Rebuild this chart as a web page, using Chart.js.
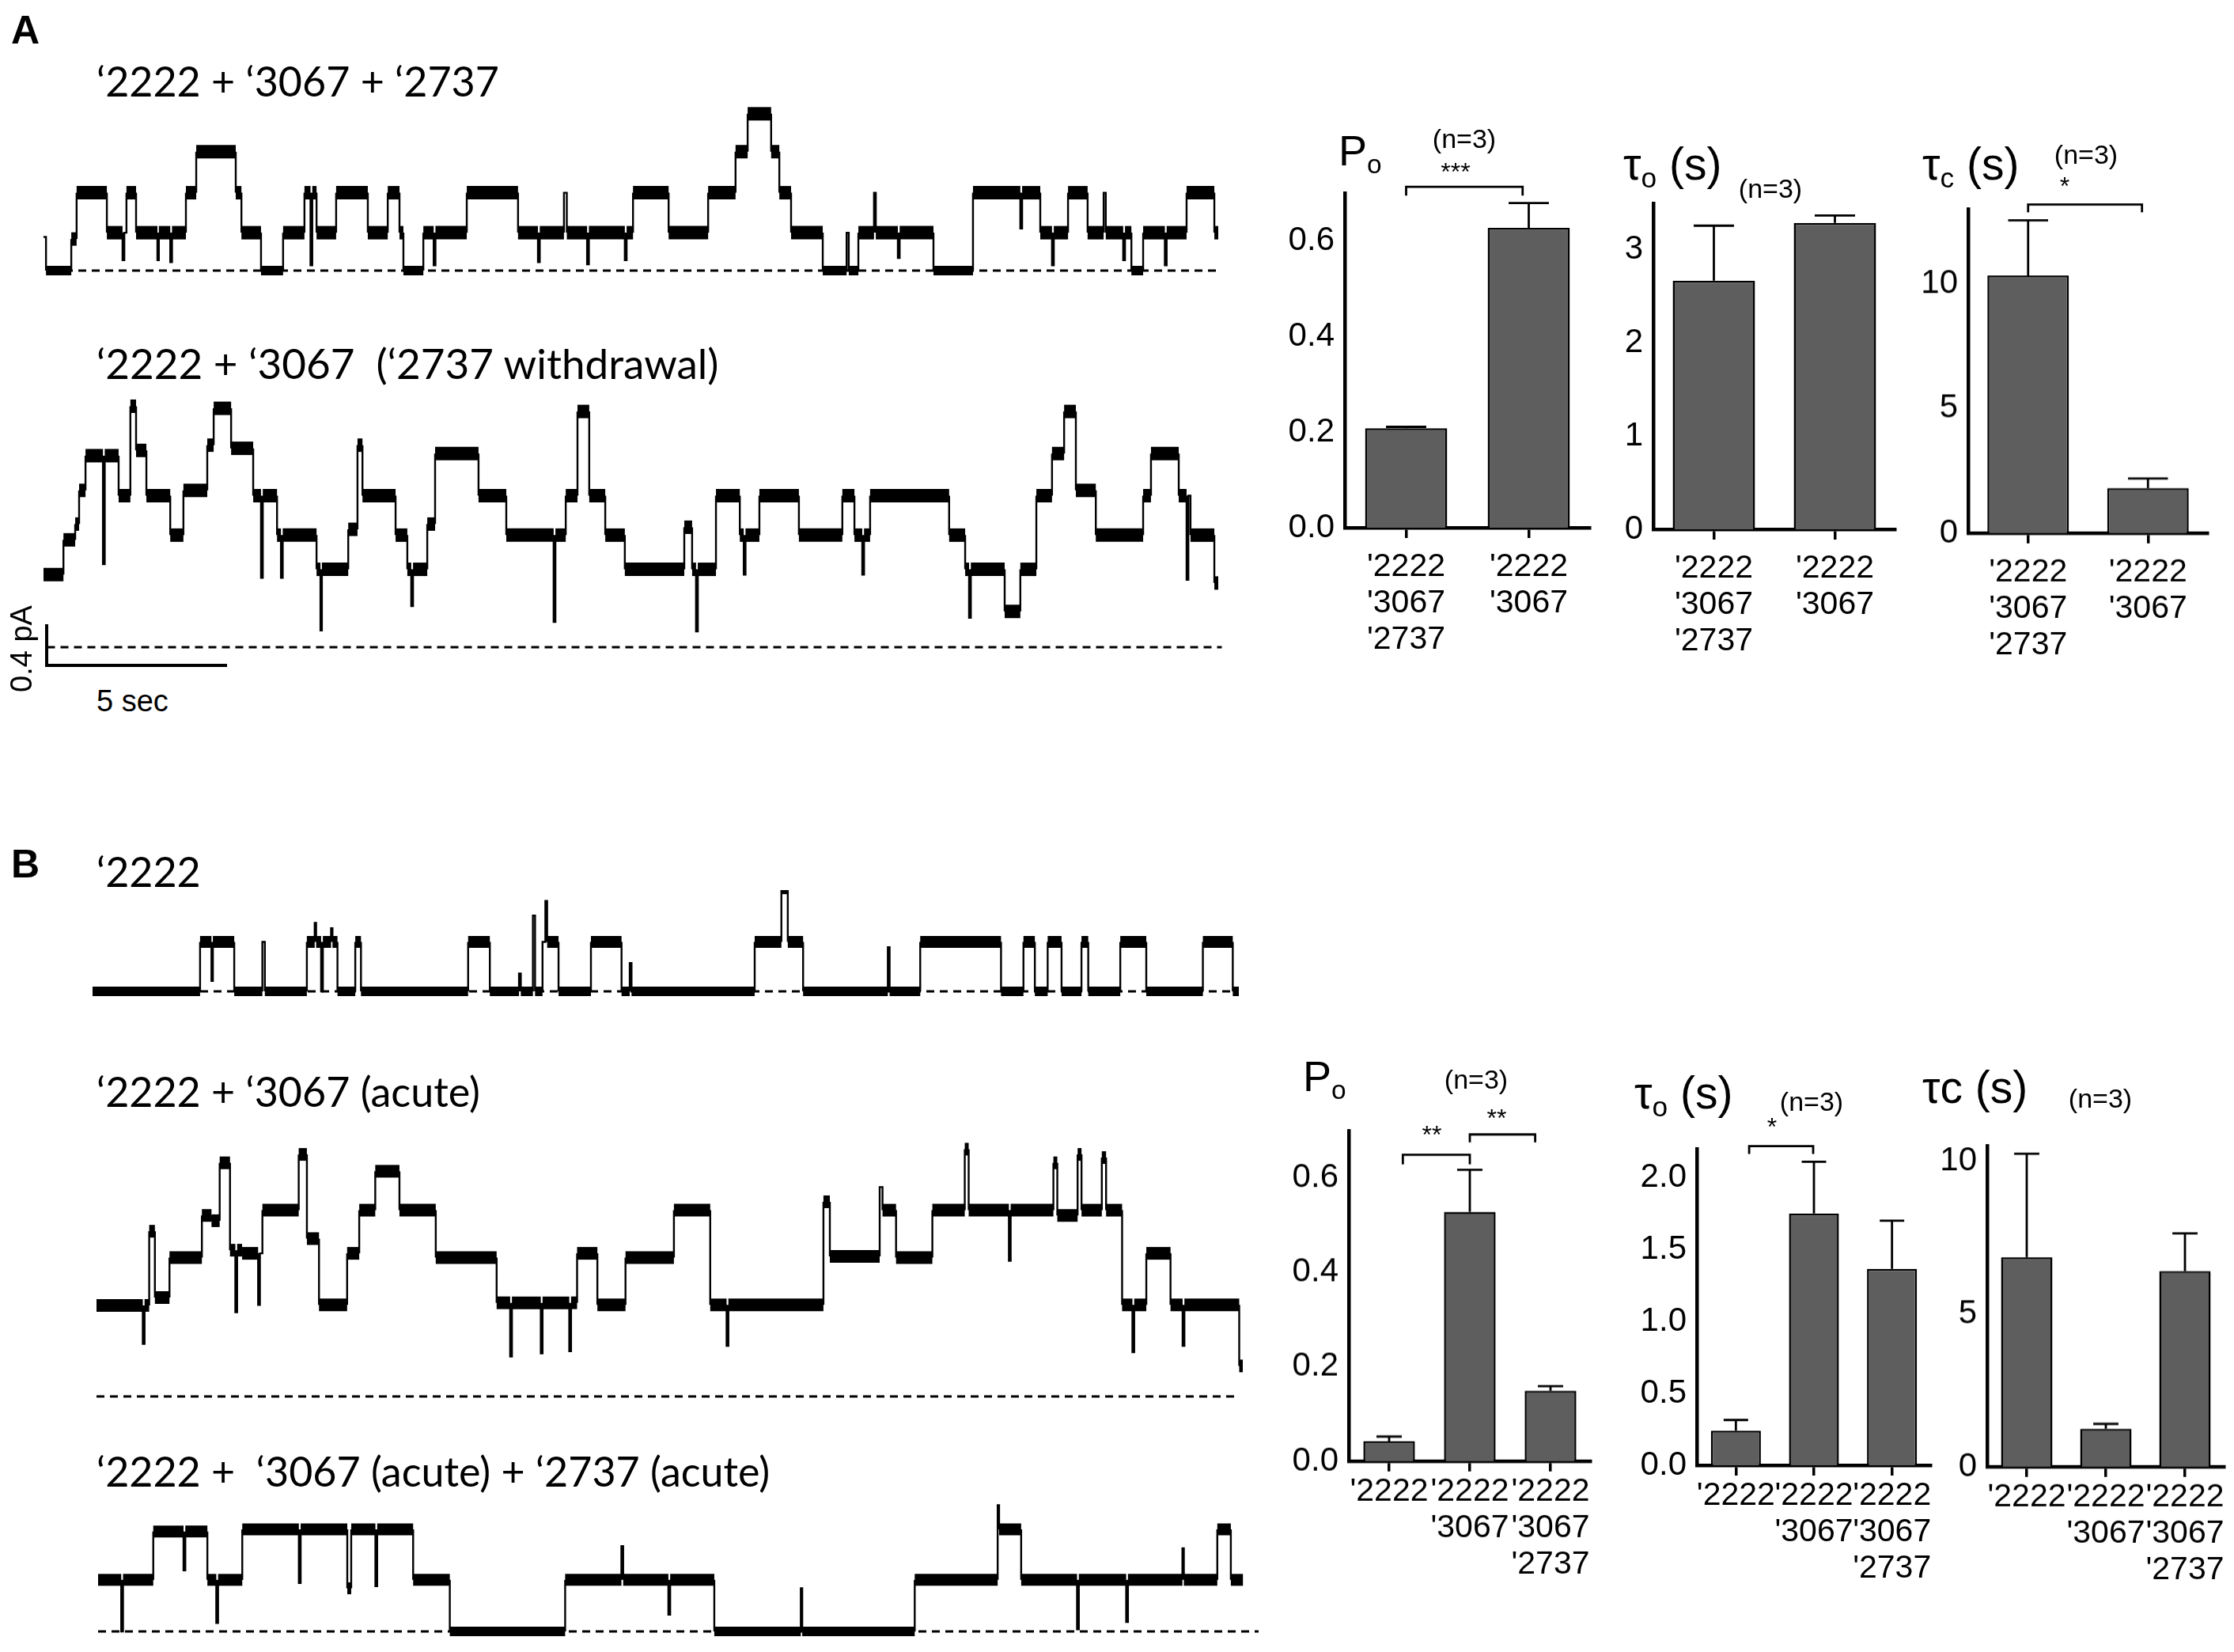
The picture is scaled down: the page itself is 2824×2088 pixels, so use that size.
<!DOCTYPE html>
<html>
<head>
<meta charset="utf-8">
<script src="https://cdn.jsdelivr.net/npm/chart.js@4.4.1/dist/chart.umd.min.js"></script>
<style>
html,body{margin:0;padding:0;background:#fff;}
#page{position:relative;width:2824px;height:2088px;overflow:hidden;background:#fff;}
#page canvas{position:absolute;}
.t{position:absolute;white-space:pre;line-height:1;color:#000;}
</style>
</head>
<body>
<div id="page"></div>
<script>
// ===================== DATA =====================
// Single-channel traces: times (s) where each level starts (+ end time), current level (pA)
const traceA1_t = [0,0.07,0.78,0.93,1.78,2.33,2.6,3.2,3.24,4.0,4.29,5.4,5.56,6.11,6.73,7.33,7.5,7.55,7.67,8.22,9.11,9.67,10.0,10.11,10.67,11.89,13.33,14.62,14.7,16.56,17.56,18.67,19.44,19.78,20.44,20.67,21.0,21.89,22.56,22.62,22.89,23.33,23.38,25.0,26.11,28.0,28.78,29.33,29.78,29.84,30.56,30.89,32.11,32.89,33.0];
const traceA1_pA = [0.32,0,0.3,0.74,0.36,0.74,0.36,0.1,0.36,0.74,1.13,0.74,0.36,0,0.36,0.74,0.05,0.74,0.36,0.74,0.36,0.74,0.36,0,0.36,0.74,0.36,0.74,0.36,0.74,0.36,0.74,1.13,1.49,1.13,0.74,0.36,0,0.36,0,0.36,0.74,0.36,0,0.74,0.36,0.74,0.36,0.74,0.36,0,0.36,0.74,0.36];
// brief flickers (closing events): start time (s), level reached (pA)
const flickA1_t = [2.22,3.56,9.62,10.96,13.89,15.27,16.33,24.0,27.44,28.33,30.33,31.5];
const flickA1_pA = [0.1,0.08,0.05,0.05,0.08,0.06,0.1,0.12,0.4,0.05,0.1,0.05];

const traceA2_t = [0,0.56,0.89,1.0,1.18,2.11,2.44,2.6,2.89,3.56,3.93,4.6,4.78,5.27,5.89,6.56,7.67,7.78,7.82,8.56,8.82,8.96,9.89,10.22,10.78,11.0,12.22,13.0,14.67,15.0,15.33,15.78,16.33,18.0,18.22,18.89,19.56,20.11,21.22,22.44,22.78,23.22,25.44,25.89,27.0,27.44,27.89,28.33,28.67,29.0,29.56,30.89,31.11,31.89,32.22,32.89,33.0];
const traceA2_pA = [0.69,1.02,1.17,1.49,1.82,1.44,2.29,1.87,1.44,1.065,1.49,1.92,2.27,1.89,1.44,1.065,0.74,0.16,0.74,1.12,1.92,1.44,1.065,0.74,1.17,1.84,1.44,1.065,1.44,2.24,1.44,1.065,0.74,1.14,0.74,1.44,1.065,1.44,1.065,1.44,1.065,1.44,1.065,0.74,0.34,0.74,1.44,1.84,2.24,1.49,1.065,1.44,1.84,1.44,1.065,0.61];
const flickA2_t = [1.67,6.11,6.67,10.33,14.33,18.33,19.67,23.0,26.0,32.11];
const flickA2_pA = [0.79,0.66,0.66,0.39,0.24,0.15,0.69,0.69,0.28,0.64];

const traceB1_t = [0,3.02,3.34,3.38,3.98,4.77,4.84,6.02,6.24,6.28,6.42,6.47,6.70,6.74,6.88,7.38,7.54,10.55,11.16,11.98,12.03,12.37,12.43,12.64,12.72,12.77,13.09,14.0,14.86,15.09,15.14,18.6,19.35,19.53,19.96,22.34,22.39,23.25,25.52,26.15,26.47,26.83,27.22,27.78,27.97,28.87,29.6,31.19,32.03,32.2];
const traceB1_pA = [0,0.47,0.1,0.47,0,0.47,0,0.47,0.65,0.47,0,0.47,0.6,0.47,0,0.47,0,0.47,0,0.17,0,0.72,0,0.47,0.86,0.47,0,0.47,0,0.27,0,0.47,0.98,0.47,0,0.42,0,0.47,0,0.47,0,0.47,0,0.47,0,0.47,0,0.47,0];
const flickB1_t = [];
const flickB1_pA = [];

const traceB2_t = [0,1.48,1.64,2.05,2.96,3.23,3.46,3.75,4.09,4.66,5.68,5.91,6.25,7.04,7.38,7.83,8.51,9.53,11.24,13.5,14.07,14.86,16.22,17.24,20.42,20.6,22.0,22.08,22.46,23.48,24.39,24.5,26.88,26.99,27.56,27.67,28.24,28.36,28.81,29.1,29.15,29.49,30.17,32.1,32.2];
const traceB2_pA = [0.865,1.57,0.94,1.32,1.72,1.67,2.22,1.39,1.36,1.77,2.3,1.5,0.87,1.36,1.77,2.14,1.77,1.32,0.89,1.36,0.87,1.32,1.77,0.87,1.85,1.33,1.99,1.77,1.32,1.77,2.35,1.77,2.22,1.72,2.3,1.77,2.27,1.77,0.87,0.42,0.87,1.36,0.87,0.29];
const flickB2_t = [1.3,3.9,4.54,11.62,12.48,13.28,17.7,25.63,30.51];
const flickB2_pA = [0.5,0.8,0.87,0.38,0.41,0.43,0.48,1.29,0.48];

const traceB3_t = [0,0.65,0.7,1.55,3.07,3.32,3.37,4.05,7.0,7.11,8.85,9.88,13.12,14.7,14.75,17.31,19.74,19.78,22.94,25.27,25.31,25.93,27.5,27.55,30.46,30.5,31.44,31.82,32.16];
const traceB3_pA = [0.49,0,0.49,0.95,0.49,0.08,0.49,0.97,0.41,0.97,0.49,0,0.49,0.81,0.49,0,0.41,0,0.49,1.2,0.97,0.49,0.02,0.49,0.79,0.49,0.97,0.49];
const flickB3_t = [2.4,5.64,7.79,16.02,28.88];
const flickB3_pA = [0.58,0.46,0.43,0.16,0.09];

// Bar charts: categories, means, SEM, tick values
const catsA = [["'2222","'3067","'2737"],["'2222","'3067"]];
const catsB = [["'2222"],["'2222","'3067"],["'2222","'3067","'2737"]];

const poA = [0.208, 0.627];       const poA_sem = [0.003, 0.052];
const tauOA = [2.67, 3.29];       const tauOA_sem = [0.59, 0.08];
const tauCA = [10.33, 1.80];      const tauCA_sem = [2.21, 0.39];
const poB = [0.042, 0.528, 0.149];  const poB_sem = [0.010, 0.089, 0.010];
const tauOB = [0.24, 1.75, 1.365];  const tauOB_sem = [0.075, 0.36, 0.335];
const tauCB = [6.85, 1.24, 6.40];   const tauCB_sem = [3.39, 0.16, 1.23];

const ticksPo = [0, 0.2, 0.4, 0.6];
const ticksTauOA = [0, 1, 2, 3];
const ticksTauC = [0, 5, 10];
const ticksTauOB = [0, 0.5, 1.0, 1.5, 2.0];

// ===================== LAYOUT / DRAWING =====================
const page = document.getElementById('page');
const ARIAL = "'Liberation Sans', Arial, sans-serif";
const LATO = "Lato, 'Open Sans', sans-serif";
const PX_PER_S = 45, PX_PER_PA = 133, FLICK_S = 0.05;

function addCanvas(left, top, w, h) {
  const c = document.createElement('canvas');
  c.width = w; c.height = h;
  c.style.left = left + 'px'; c.style.top = top + 'px';
  c.style.width = w + 'px'; c.style.height = h + 'px';
  page.appendChild(c);
  return c;
}
function txt(html, x, cy, size, fam, o) {
  o = o || {};
  const d = document.createElement('div');
  d.className = 't';
  d.innerHTML = html;
  d.style.fontSize = size + 'px';
  d.style.fontFamily = fam;
  d.style.left = x + 'px';
  d.style.top = (cy - size * (o.k != null ? o.k : 0.5)) + 'px';
  if (o.center) d.style.transform = 'translateX(-50%)';
  if (o.bold) d.style.fontWeight = 'bold';
  page.appendChild(d);
  return d;
}
function box(left, top, w, h) {
  const d = document.createElement('div');
  d.style.cssText = `position:absolute;left:${left}px;top:${top}px;width:${w}px;height:${h}px;background:#000;`;
  page.appendChild(d);
}

// split the dwell segments so each flicker becomes its own brief segment
function buildSegments(times, levels, ft, fl) {
  let segs = levels.map((l, i) => ({a: times[i], b: times[i + 1], l}));
  ft.forEach((t, k) => {
    const i = segs.findIndex(s => t > s.a && t + FLICK_S < s.b);
    if (i < 0) return;
    const s = segs[i];
    segs.splice(i, 1, {a: s.a, b: t, l: s.l}, {a: t, b: t + FLICK_S, l: fl[k]}, {a: t + FLICK_S, b: s.b, l: s.l});
  });
  return segs;
}

function makeTrace(g, times, levels, ft, fl, dash) {
  const cv = addCanvas(g.left, g.top, g.width, g.height);
  const pts = [];
  buildSegments(times, levels, ft, fl).forEach(s => {
    pts.push({x: s.a, y: s.l});
    pts.push({x: s.b, y: s.l});
  });
  const segW = c => {
    const dx = c.p1.parsed.x - c.p0.parsed.x;
    if (dx < 0.1) return 2.4;
    return c.p0.parsed.y < 0.2 ? g.closed : g.thick;
  };
  new Chart(cv, {
    type: 'line',
    data: {datasets: [
      {data: pts, borderColor: '#000', borderWidth: g.thick, pointRadius: 0, tension: 0,
       borderJoinStyle: 'miter', segment: {borderWidth: segW}},
      {data: [{x: dash[0], y: 0}, {x: dash[1], y: 0}], borderColor: '#000', borderWidth: 2.8,
       borderDash: [10, 7], pointRadius: 0}
    ]},
    options: {
      responsive: false, animation: false, devicePixelRatio: 1, events: [],
      layout: {padding: 0},
      plugins: {legend: {display: false}, tooltip: {enabled: false}},
      scales: {
        x: {type: 'linear', display: false, min: 0, max: g.width / PX_PER_S},
        y: {display: false, min: -(g.top + g.height - g.base) / PX_PER_PA, max: (g.base - g.top) / PX_PER_PA}
      }
    }
  });
}

function errPlugin(sems, brackets) {
  return {
    id: 'errbars',
    afterDatasetsDraw(chart) {
      const {ctx} = chart; const x = chart.scales.x, y = chart.scales.y;
      const meta = chart.getDatasetMeta(0); const vals = chart.data.datasets[0].data;
      ctx.save(); ctx.strokeStyle = '#000'; ctx.lineWidth = 2.8; ctx.lineCap = 'butt';
      meta.data.forEach((bar, i) => {
        const top = y.getPixelForValue(vals[i] + sems[i]);
        const base = y.getPixelForValue(vals[i]);
        const half = bar.width * 0.245;
        ctx.beginPath();
        ctx.moveTo(bar.x, base); ctx.lineTo(bar.x, top);
        ctx.moveTo(bar.x - half, top); ctx.lineTo(bar.x + half, top);
        ctx.stroke();
      });
      const p0 = x.getPixelForValue(0), step = x.getPixelForValue(1) - p0;
      (brackets || []).forEach(b => {
        const x0 = p0 + b.from * step, x1 = p0 + b.to * step, yy = y.getPixelForValue(b.level);
        ctx.beginPath();
        ctx.moveTo(x0, yy + b.drop); ctx.lineTo(x0, yy); ctx.lineTo(x1, yy); ctx.lineTo(x1, yy + b.drop);
        ctx.stroke();
      });
      ctx.restore();
    }
  };
}

function makeBar(g, cats, vals, sems, ticks, decimals, brackets) {
  const YW = 130, XH = 185, PT = 60, PR = 12;
  const cv = addCanvas(g.L - YW, g.T - PT, YW + (g.R - g.L) + PR, PT + (g.B - g.T) + XH);
  new Chart(cv, {
    type: 'bar',
    data: {labels: cats, datasets: [{data: vals, backgroundColor: '#5e5e5e', borderColor: '#000',
      borderWidth: 2.5, barPercentage: g.bp, categoryPercentage: 1}]},
    options: {
      responsive: false, animation: false, devicePixelRatio: 1, events: [],
      layout: {padding: {top: PT, right: PR, left: 0, bottom: 0}},
      plugins: {legend: {display: false}, tooltip: {enabled: false}},
      scales: {
        x: {
          grid: {display: true, drawOnChartArea: false, offset: false, tickLength: 13, lineWidth: 3.5, color: '#000', tickColor: '#000'},
          border: {display: true, color: '#000', width: 4.5},
          ticks: {color: '#000', font: {family: ARIAL, size: 41, lineHeight: 1.12}, padding: g.lp, maxRotation: 0, minRotation: 0, autoSkip: false},
          afterFit(s) { s.height = XH; }
        },
        y: {
          min: 0, max: g.yMax,
          grid: {display: false, drawTicks: false},
          border: {display: true, color: '#000', width: 4.5},
          ticks: {color: '#000', font: {family: ARIAL, size: 42}, padding: 13, callback: v => Number(v).toFixed(decimals)},
          afterFit(s) { s.width = YW; },
          afterBuildTicks(s) { s.ticks = ticks.map(v => ({value: v})); }
        }
      }
    },
    plugins: [errPlugin(sems, brackets)]
  });
}

// ---- Panel A traces ----
makeTrace({left: 55, top: 110, width: 1500, height: 255, base: 342, thick: 17, closed: 12}, traceA1_t, traceA1_pA, flickA1_t, flickA1_pA, [0.6, 33.0]);
makeTrace({left: 55, top: 480, width: 1500, height: 360, base: 818, thick: 17, closed: 12}, traceA2_t, traceA2_pA, flickA2_t, flickA2_pA, [0.1, 33.1]);
// ---- Panel B traces ----
makeTrace({left: 117, top: 1125, width: 1480, height: 150, base: 1253, thick: 15, closed: 12}, traceB1_t, traceB1_pA, flickB1_t, flickB1_pA, [0, 32.2]);
makeTrace({left: 122, top: 1415, width: 1480, height: 375, base: 1765, thick: 16, closed: 12}, traceB2_t, traceB2_pA, flickB2_t, flickB2_pA, [0, 32.1]);
makeTrace({left: 124, top: 1880, width: 1480, height: 205, base: 2062, thick: 15, closed: 12}, traceB3_t, traceB3_pA, flickB3_t, flickB3_pA, [0, 32.6]);

// ---- Panel A bars ----
makeBar({L: 1700, R: 2010, B: 667, T: 243.5, yMax: 0.7, bp: 0.67, lp: 14}, catsA, poA, poA_sem, ticksPo, 1,
  [{from: 0, to: 0.95, level: 0.713, drop: 11}]);
makeBar({L: 2090, R: 2396, B: 669.5, T: 256.8, yMax: 3.5, bp: 0.68, lp: 14}, catsA, tauOA, tauOA_sem, ticksTauOA, 0, []);
makeBar({L: 2488, R: 2791, B: 674, T: 264.4, yMax: 13, bp: 0.68, lp: 14}, catsA, tauCA, tauCA_sem, ticksTauC, 0,
  [{from: 0, to: 0.95, level: 13.18, drop: 10}]);
// ---- Panel B bars ----
makeBar({L: 1705, R: 2011, B: 1847, T: 1429.4, yMax: 0.7, bp: 0.64, lp: 3}, catsB, poB, poB_sem, ticksPo, 1,
  [{from: 0.17, to: 1.0, level: 0.649, drop: 12}, {from: 1.0, to: 1.81, level: 0.692, drop: 10}]);
makeBar({L: 2145, R: 2441, B: 1852, T: 1451.6, yMax: 2.2, bp: 0.64, lp: 3}, catsB, tauOB, tauOB_sem, ticksTauOB, 1,
  [{from: 0.17, to: 0.99, level: 2.219, drop: 10}]);
makeBar({L: 2512, R: 2812, B: 1854, T: 1448.3, yMax: 10.5, bp: 0.65, lp: 3}, catsB, tauCB, tauCB_sem, ticksTauC, 0, []);

// ---- Text ----
txt('A', 14, 38, 50, ARIAL, {bold: true});
txt('B', 14, 1092, 50, ARIAL, {bold: true});
txt('‘2222 + ‘3067 + ‘2737', 122, 103, 52, LATO, {k: 0.52});
txt('‘2222 + ‘3067  (‘2737 withdrawal)', 122, 460, 53, LATO, {k: 0.52});
txt('‘2222', 122, 1102, 52, LATO, {k: 0.52});
txt('‘2222 + ‘3067 (acute)', 122, 1380, 52, LATO, {k: 0.52});
txt('‘2222 +  ‘3067 (acute) + ‘2737 (acute)', 122, 1860, 52, LATO, {k: 0.52});

// scale bar
box(57, 789, 4, 54);
box(57, 839, 230, 4);
const sb = txt('0.4 pA', 27, 820, 38, ARIAL);
sb.style.transform = 'translate(-50%,-50%) rotate(-90deg)';
sb.style.top = '820px';
txt('5 sec', 122, 886, 38, ARIAL);

// bar-chart titles
const SUB = s => `<span style="font-size:0.62em;position:relative;top:0.3em">${s}</span>`;
txt('P' + SUB('o'), 1692, 190, 54, ARIAL);
txt('(n=3)', 1851, 175, 34, ARIAL, {center: true});
txt('***', 1840, 211, 32, ARIAL, {center: true, k: 0.3});
txt('τ' + SUB('o') + ' (s)', 2052, 207, 57, ARIAL);
txt('(n=3)', 2238, 238, 34, ARIAL, {center: true});
txt('τ' + SUB('c') + ' (s)', 2430, 207, 57, ARIAL);
txt('(n=3)', 2637, 195, 34, ARIAL, {center: true});
txt('*', 2610, 229, 32, ARIAL, {center: true, k: 0.3});

txt('P' + SUB('o'), 1647, 1360, 54, ARIAL);
txt('(n=3)', 1866, 1364, 34, ARIAL, {center: true});
txt('**', 1810, 1428, 32, ARIAL, {center: true, k: 0.3});
txt('**', 1892, 1407, 32, ARIAL, {center: true, k: 0.3});
txt('τ' + SUB('o') + ' (s)', 2066, 1381, 57, ARIAL);
txt('(n=3)', 2290, 1392, 34, ARIAL, {center: true});
txt('*', 2240, 1418, 32, ARIAL, {center: true, k: 0.3});
txt('τc (s)', 2430, 1374, 57, ARIAL);
txt('(n=3)', 2655, 1388, 34, ARIAL, {center: true});
</script>
</body>
</html>
